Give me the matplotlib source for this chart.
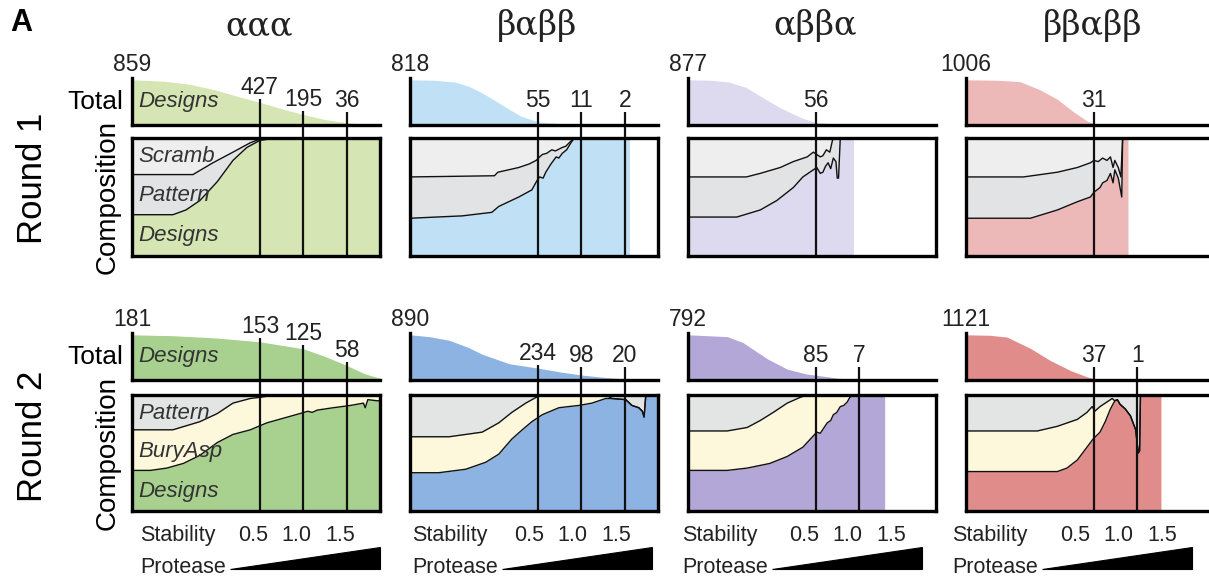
import numpy as np
import matplotlib
matplotlib.use("Agg")
from matplotlib import pyplot as plt
from matplotlib import transforms
from matplotlib.patches import Polygon

plt.rcParams["font.family"] = ["Liberation Sans", "DejaVu Sans"]

W, H = 1209, 580
XMIN, XMAX = -0.97, 1.88
THRESH = [0.5, 1.0, 1.5]

titles = ["ααα", "βαββ", "αββα", "ββαββ"]

# --- round 1 ---------------------------------------------------------------
# (stability, fraction)
aaa1_total = [(-0.97, 1.0), (-0.6, 0.97), (-0.3, 0.9), (0.0, 0.77), (0.25, 0.63),
              (0.5, 0.50), (0.75, 0.36), (1.0, 0.23), (1.25, 0.12), (1.5, 0.05),
              (1.7, 0.015), (1.88, 0.0)]
aaa1_low = [(-0.97, 0.35), (-0.5, 0.35), (-0.35, 0.39), (-0.19, 0.47), (0.01, 0.63),
            (0.19, 0.81), (0.35, 0.92), (0.50, 0.98), (0.70, 1.0)]
aaa1_up = [(-0.97, 0.69), (-0.27, 0.69), (-0.04, 0.79), (0.19, 0.88), (0.39, 0.96),
           (0.50, 0.99), (0.70, 1.0)]

bab1_total = [(-0.97, 1.0), (-0.7, 0.99), (-0.45, 0.95), (-0.3, 0.86), (-0.15, 0.72),
              (0.0, 0.55), (0.15, 0.37), (0.3, 0.2), (0.5, 0.07), (0.75, 0.03),
              (1.0, 0.013), (1.3, 0.005), (1.55, 0.0)]
bab1_low = [(-0.97, 0.32), (-0.37, 0.34), (-0.03, 0.37), (0.05, 0.42), (0.28, 0.50),
            (0.43, 0.56), (0.49, 0.64), (0.52, 0.67), (0.56, 0.66), (0.59, 0.71),
            (0.65, 0.78), (0.71, 0.84), (0.74, 0.83), (0.78, 0.87), (0.83, 0.90),
            (0.88, 0.96), (0.92, 1.0)]
bab1_up = [(-0.97, 0.67), (0.0, 0.68), (0.04, 0.71), (0.28, 0.75), (0.40, 0.78),
           (0.48, 0.81), (0.52, 0.84), (0.55, 0.86), (0.60, 0.87), (0.66, 0.90),
           (0.70, 0.89), (0.78, 0.92), (0.82, 0.93), (0.86, 0.96), (0.92, 1.0)]

abba1_total = [(-0.97, 1.0), (-0.7, 0.99), (-0.5, 0.95), (-0.3, 0.83), (-0.14, 0.64),
               (0.09, 0.38), (0.32, 0.17), (0.47, 0.07), (0.7, 0.025), (0.93, 0.0)]
abba1_low = [(-0.97, 0.33), (-0.41, 0.33), (-0.14, 0.39), (0.05, 0.47), (0.24, 0.58),
             (0.35, 0.67), (0.47, 0.73), (0.51, 0.75), (0.55, 0.70), (0.58, 0.71),
             (0.61, 0.76), (0.64, 0.79), (0.67, 0.74), (0.70, 0.83), (0.73, 0.80),
             (0.745, 0.66), (0.76, 0.66), (0.78, 1.0)]
abba1_up = [(-0.97, 0.67), (-0.30, 0.67), (-0.14, 0.70), (0.09, 0.75), (0.24, 0.80),
            (0.40, 0.84), (0.47, 0.88), (0.51, 0.86), (0.55, 0.84), (0.58, 0.85),
            (0.62, 0.90), (0.66, 0.88), (0.69, 0.98), (0.71, 1.0)]

bbabb1_total = [(-0.97, 1.0), (-0.6, 0.99), (-0.35, 0.96), (-0.12, 0.78), (0.08, 0.57),
                (0.26, 0.30), (0.42, 0.09), (0.5, 0.031), (0.7, 0.01), (0.89, 0.0)]
bbabb1_low = [(-0.97, 0.32), (-0.23, 0.32), (0.08, 0.39), (0.31, 0.46), (0.46, 0.50),
              (0.50, 0.54), (0.57, 0.58), (0.60, 0.62), (0.65, 0.64), (0.69, 0.70),
              (0.72, 0.62), (0.74, 0.73), (0.78, 0.66), (0.82, 0.50), (0.83, 1.0)]
bbabb1_up = [(-0.97, 0.67), (-0.31, 0.67), (0.08, 0.71), (0.31, 0.75), (0.46, 0.79),
             (0.50, 0.81), (0.55, 0.80), (0.60, 0.83), (0.65, 0.81), (0.69, 0.84),
             (0.72, 0.75), (0.74, 0.81), (0.78, 0.75), (0.81, 0.67), (0.83, 1.0)]

r1_counts = [[427, 195, 36], [55, 11, 2], [56], [31]]
r1_top = [859, 818, 877, 1006]
r1_end = [1.88, 1.55, 0.93, 0.89]

# --- round 2 ---------------------------------------------------------------
aaa2_total = [(-0.97, 1.0), (-0.5, 0.98), (0.0, 0.93), (0.5, 0.845), (1.0, 0.69),
              (1.25, 0.52), (1.5, 0.32), (1.7, 0.14), (1.88, 0.04)]
aaa2_low = [(-0.97, 0.35), (-0.76, 0.35), (-0.57, 0.37), (-0.38, 0.41), (-0.19, 0.48),
            (0.01, 0.59), (0.19, 0.66), (0.39, 0.70), (0.58, 0.76), (0.77, 0.80),
            (0.96, 0.84), (1.05, 0.86), (1.1, 0.85), (1.16, 0.87), (1.34, 0.89),
            (1.54, 0.91), (1.69, 0.93), (1.71, 0.89), (1.74, 0.96), (1.85, 0.95),
            (1.88, 0.95)]
aaa2_up = [(-0.97, 0.70), (-0.50, 0.70), (-0.19, 0.77), (0.01, 0.84), (0.19, 0.93),
           (0.39, 0.97), (0.50, 0.98), (0.67, 1.0)]

bab2_total = [(-0.97, 1.0), (-0.75, 0.96), (-0.52, 0.88), (-0.3, 0.72), (-0.14, 0.57),
              (0.17, 0.36), (0.5, 0.263), (0.75, 0.18), (1.0, 0.11), (1.25, 0.06),
              (1.5, 0.022), (1.88, 0.005)]
bab2_low = [(-0.97, 0.33), (-0.64, 0.33), (-0.33, 0.36), (-0.10, 0.42), (0.05, 0.49),
            (0.20, 0.62), (0.32, 0.70), (0.43, 0.77), (0.55, 0.83), (0.74, 0.89),
            (0.85, 0.90), (0.97, 0.91), (1.12, 0.93), (1.28, 0.97), (1.35, 0.97),
            (1.51, 0.96), (1.58, 0.91), (1.66, 0.89), (1.70, 0.86), (1.72, 0.81),
            (1.74, 1.0)]
bab2_up = [(-0.97, 0.64), (-0.52, 0.64), (-0.14, 0.68), (0.05, 0.76), (0.20, 0.85),
           (0.36, 0.93), (0.48, 0.98), (0.55, 1.0), (1.28, 1.0), (1.35, 0.97),
           (1.51, 0.96), (1.58, 0.91), (1.66, 0.89), (1.70, 0.86), (1.72, 0.81),
           (1.74, 1.0)]

abba2_total = [(-0.97, 1.0), (-0.52, 0.96), (-0.34, 0.83), (-0.06, 0.47), (0.17, 0.24),
               (0.4, 0.13), (0.5, 0.107), (0.75, 0.04), (1.0, 0.009), (1.29, 0.0)]
abba2_low = [(-0.97, 0.35), (-0.52, 0.35), (-0.29, 0.37), (-0.03, 0.41), (0.17, 0.47),
             (0.35, 0.55), (0.51, 0.68), (0.55, 0.67), (0.63, 0.76), (0.67, 0.78),
             (0.70, 0.83), (0.74, 0.85), (0.78, 0.90), (0.82, 0.91), (0.86, 0.94),
             (0.89, 0.98), (0.93, 1.0)]
abba2_up = [(-0.97, 0.69), (-0.52, 0.69), (-0.29, 0.72), (-0.14, 0.78), (0.01, 0.85),
            (0.17, 0.93), (0.32, 0.98), (0.40, 1.0)]

bbabb2_total = [(-0.97, 1.0), (-0.7, 0.99), (-0.5, 0.95), (-0.23, 0.70), (0.0, 0.43),
                (0.23, 0.21), (0.42, 0.07), (0.5, 0.033), (0.75, 0.01), (1.0, 0.001),
                (1.27, 0.0)]
bbabb2_low = [(-0.97, 0.34), (0.08, 0.34), (0.19, 0.37), (0.31, 0.44), (0.42, 0.55),
              (0.49, 0.62), (0.57, 0.68), (0.63, 0.77), (0.69, 0.88), (0.74, 0.95),
              (0.77, 0.96), (0.80, 0.92), (0.86, 0.88), (0.92, 0.82), (0.98, 0.70),
              (1.01, 0.50), (1.025, 0.52), (1.035, 1.0)]
bbabb2_up = [(-0.97, 0.69), (-0.15, 0.69), (0.08, 0.73), (0.31, 0.79), (0.42, 0.85),
             (0.48, 0.90), (0.51, 0.86), (0.57, 0.90), (0.65, 0.94), (0.71, 0.97),
             (0.74, 0.95), (0.77, 0.96), (0.80, 0.92), (0.86, 0.88), (0.92, 0.82),
             (0.98, 0.70), (1.01, 0.50), (1.025, 0.52), (1.035, 1.0)]

r2_counts = [[153, 125, 58], [234, 98, 20], [85, 7], [37, 1]]
r2_top = [181, 890, 792, 1121]
r2_end = [1.88, 1.88, 1.29, 1.27]

r1_colors = ["#d5e5b3", "#c0e0f5", "#dddaf0", "#ecb9b8"]
r2_colors = ["#a8d08e", "#8db3e2", "#b2a7d7", "#e08c8b"]

r1_labels = ["Scramb", "Pattern", "Designs"]
r2_labels = ["Pattern", "BuryAsp", "Designs"]

# --- layout (pixels) -------------------------------------------------------
BOX_LEFT = [132, 410, 688, 966]
BOX_W = 248
ROWS = [dict(t_top=78, t_h=47, c_top=138, c_h=118, band=("#eeeeee", "#e2e3e4")),
        dict(t_top=333, t_h=47, c_top=395, c_h=116, band=("#e3e5e5", "#fdf8dc"))]
BOTTOM_DX = [0, -6, -14, -22]
TICK_DX = [-7, -9, -12, -19]
LW = 2.4
NUM_FS = 16.5


def px_axes(fig, left, top, width, height):
    return fig.add_axes([left / W, 1 - (top + height) / H, width / W, height / H])


def draw_panel(fig, col, row, total, low, up, end, counts, top_count, color):
    r = ROWS[row]
    left = BOX_LEFT[col]
    ax_t = px_axes(fig, left, r["t_top"], BOX_W, r["t_h"])
    ax_c = px_axes(fig, left, r["c_top"], BOX_W, r["c_h"])

    ts, tf = np.array(total).T
    ax_t.fill_between(ts, 0, tf, color=color, lw=0)
    ax_t.set_xlim(XMIN, XMAX)
    ax_t.set_ylim(0, 1.04)
    ax_t.patch.set_alpha(0)
    for s in ["top", "right"]:
        ax_t.spines[s].set_visible(False)
    for s in ["left", "bottom"]:
        ax_t.spines[s].set_linewidth(LW)
    ax_t.set_xticks([])
    ax_t.set_yticks([])
    ax_t.text(XMIN, 1.04, str(top_count), ha="center", va="bottom", fontsize=NUM_FS,
              color="#222222",
              transform=transforms.offset_copy(ax_t.transData, fig=fig, y=2, units="dots"))

    top_band, mid_band = r["band"]
    ax_c.axvspan(XMIN, end, color=top_band, lw=0)
    us, uf = np.array(up).T
    ls, lf = np.array(low).T
    ax_c.fill_between(np.r_[us, end], 0, np.r_[uf, 1.0], color=mid_band, lw=0)
    ax_c.fill_between(np.r_[ls, end], 0, np.r_[lf, 1.0], color=color, lw=0)
    ax_c.plot(us, uf, color="#111111", lw=1.0)
    ax_c.plot(ls, lf, color="#111111", lw=1.0)
    ax_c.set_xlim(XMIN, XMAX)
    ax_c.set_ylim(0, 1)
    ax_c.set_xticks([])
    ax_c.set_yticks([])
    for s in ax_c.spines.values():
        s.set_linewidth(LW)

    for thr, n in zip(THRESH, counts):
        h = max(n / top_count, 0.2) + 0.08
        ax_t.plot([thr, thr], [-0.45, h], color="#111111", lw=1.6, clip_on=False,
                  solid_capstyle="butt")
        ax_t.text(thr, h, str(n), ha="center", va="bottom", fontsize=NUM_FS,
                  color="#222222")
        ax_c.axvline(thr, color="#111111", lw=1.6)

    if col == 0:
        labels = r1_labels if row == 0 else r2_labels
        ax_t.text(-0.035, 0.48, "Total", transform=ax_t.transAxes, ha="right",
                  va="center", fontsize=19)
        ax_t.text(0.025, 0.5, "Designs", transform=ax_t.transAxes, ha="left",
                  va="center", fontsize=16, style="italic", color="#333333")
        ax_c.text(-0.1, 0.5, "Composition", transform=ax_c.transAxes, rotation=90,
                  ha="center", va="center", fontsize=20)
        for y, lab in zip([0.84, 0.51, 0.17], labels):
            ax_c.text(0.025, y, lab, transform=ax_c.transAxes, ha="left",
                      va="center", fontsize=16, style="italic", color="#333333")

    if row == 1:
        dx = BOTTOM_DX[col]
        h_c = r["c_h"]
        ax_c.text((8 + dx) / BOX_W, -30 / h_c, "Stability", transform=ax_c.transAxes,
                  ha="left", va="baseline", fontsize=15.5, color="#222222")
        tick_tr = transforms.offset_copy(ax_c.get_xaxis_transform(), fig=fig,
                                         x=TICK_DX[col], units="dots")
        for thr in THRESH:
            ax_c.text(thr, -30 / h_c, f"{thr:.1f}", transform=tick_tr, ha="center",
                      va="baseline", fontsize=15.5, color="#222222")
        ax_c.text((8 + dx) / BOX_W, -62 / h_c, "Protease", transform=ax_c.transAxes,
                  ha="left", va="baseline", fontsize=15.5, color="#222222")
        x0, x1 = (98 + dx) / BOX_W, (248 + dx) / BOX_W
        y0, y1 = -58 / h_c, -36 / h_c
        ax_c.add_patch(Polygon([(x0, y0), (x1, y0), (x1, y1)], closed=True,
                               transform=ax_c.transAxes, clip_on=False,
                               facecolor="black", edgecolor="black", lw=0.8))


fig = plt.figure(figsize=(W / 100, H / 100), dpi=100)

round1 = [(aaa1_total, aaa1_low, aaa1_up), (bab1_total, bab1_low, bab1_up),
          (abba1_total, abba1_low, abba1_up), (bbabb1_total, bbabb1_low, bbabb1_up)]
round2 = [(aaa2_total, aaa2_low, aaa2_up), (bab2_total, bab2_low, bab2_up),
          (abba2_total, abba2_low, abba2_up), (bbabb2_total, bbabb2_low, bbabb2_up)]

for i, (tot, lo, hi) in enumerate(round1):
    draw_panel(fig, i, 0, tot, lo, hi, r1_end[i], r1_counts[i], r1_top[i], r1_colors[i])
for i, (tot, lo, hi) in enumerate(round2):
    draw_panel(fig, i, 1, tot, lo, hi, r2_end[i], r2_counts[i], r2_top[i], r2_colors[i])

for i, t in enumerate(titles):
    fig.text((BOX_LEFT[i] + BOX_W / 2 + 3) / W, 1 - 26 / H, t, ha="center", va="center",
             fontsize=24, family=["DejaVu Serif"], color="#222222")

fig.text(10 / W, 1 - 23 / H, "A", ha="left", va="center", fontsize=22,
         fontweight="bold")
fig.text(32 / W, 1 - 178 / H, "Round 1", rotation=90, ha="center", va="center",
         fontsize=25)
fig.text(32 / W, 1 - 436 / H, "Round 2", rotation=90, ha="center", va="center",
         fontsize=25)

fig.savefig("out.png", dpi=100)
